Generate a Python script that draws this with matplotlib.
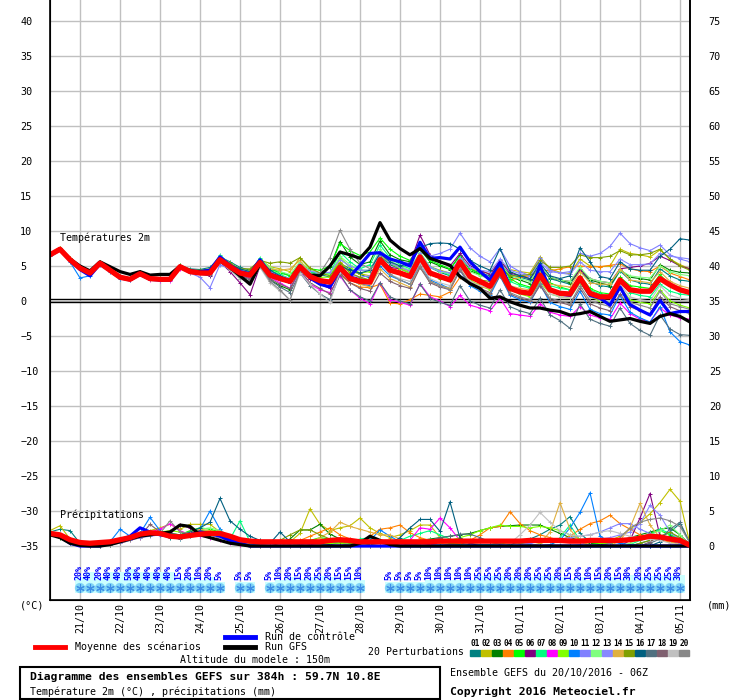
import matplotlib
matplotlib.use('Agg')
import matplotlib.pyplot as plt
from matplotlib.lines import Line2D
from matplotlib.patches import Rectangle

plt.rcParams['font.family'] = ['DejaVu Sans Mono', 'DejaVu Sans']

# echeances toutes les 6h, du 20/10 06Z au 05/11 06Z (384h)
steps = list(range(65))
day_steps = [3, 7, 11, 15, 19, 23, 27, 31, 35, 39, 43, 47, 51, 55, 59, 63]
day_labels = ['21/10', '22/10', '23/10', '24/10', '25/10', '26/10', '27/10', '28/10',
              '29/10', '30/10', '31/10', '01/11', '02/11', '03/11', '04/11', '05/11']

# Temperature 2m (degC)
t_mean = [6.6, 7.4, 5.9, 4.7, 4.0, 5.4, 4.4, 3.4, 3.1, 3.9, 3.2, 3.1, 3.1, 4.9, 4.2, 4.0,
          4.0, 5.9, 4.9, 4.0, 3.7, 5.5, 3.7, 3.2, 2.8, 4.9, 3.5, 2.9, 2.7, 4.8, 3.2, 2.8,
          2.7, 5.9, 4.4, 4.0, 3.5, 6.3, 4.0, 3.5, 3.0, 5.6, 3.5, 2.8, 2.1, 4.4, 1.8, 1.3,
          1.1, 3.7, 1.6, 1.1, 1.0, 3.3, 1.1, 0.6, 0.6, 3.0, 1.6, 1.4, 1.4, 3.2, 2.3, 1.6,
          1.2]
t_gfs = [6.6, 7.5, 6.0, 5.0, 4.3, 5.6, 4.9, 4.2, 3.8, 4.2, 3.7, 3.8, 3.8, 5.0, 4.3, 4.1,
         4.0, 5.8, 4.8, 3.6, 2.4, 5.3, 3.8, 3.3, 2.9, 4.9, 3.7, 3.6, 5.0, 7.0, 6.6, 6.1,
         7.7, 11.2, 8.7, 7.5, 6.6, 7.5, 6.1, 5.6, 5.1, 3.5, 2.5, 1.8, 0.4, 0.6, -0.1, -0.6,
         -1.0, -1.0, -1.3, -1.5, -2.0, -1.8, -1.5, -2.2, -2.9, -2.7, -2.5, -2.9, -3.2, -2.2, -1.8, -2.2,
         -3.0]
t_ctrl = [6.5, 7.3, 5.8, 4.5, 3.6, 5.3, 4.3, 3.3, 3.0, 3.8, 3.1, 3.0, 3.0, 4.8, 4.3, 4.2,
          4.4, 6.3, 5.1, 4.2, 3.9, 5.9, 3.9, 3.3, 2.7, 5.1, 3.3, 2.4, 2.0, 4.6, 3.5, 5.1,
          6.8, 6.9, 6.0, 5.6, 5.0, 8.4, 6.1, 6.2, 6.0, 7.7, 5.6, 4.2, 3.0, 5.5, 2.0, 1.3,
          1.0, 5.1, 1.6, 1.0, 0.8, 3.1, 0.8, 0.4, -0.6, 2.0, -0.5, -1.3, -2.0, 0.1, -1.8, -1.5,
          -1.5]

t01 = [6.5, 7.5, 6.0, 4.6, 3.9, 5.5, 4.5, 3.5, 3.2, 4.0, 3.1, 3.2, 3.3, 5.0, 4.6, 4.5, 4.8,
       6.3, 5.6, 4.8, 4.4, 6.0, 4.6, 4.2, 3.6, 5.3, 4.2, 3.8, 3.4, 5.4, 4.6, 3.8, 3.3,
       6.4, 5.2, 4.6, 4.0, 6.8, 4.8, 4.1, 3.6, 6.2, 4.6, 4.0, 3.6, 5.3, 3.8, 3.4, 3.0,
       5.0, 3.2, 2.8, 2.4, 4.4, 2.8, 2.2, 2.0, 4.3, 3.0, 2.6, 2.4, 4.6, 3.6, 3.0, 2.8]
t02 = [6.6, 7.6, 6.1, 4.8, 4.1, 5.6, 4.5, 3.5, 3.1, 4.0, 3.3, 3.2, 3.2, 5.0, 4.3, 4.1, 4.2,
       6.0, 5.2, 4.5, 4.3, 6.0, 4.9, 4.6, 4.2, 6.2, 4.6, 4.0, 3.8, 5.6, 4.2, 3.9, 3.6,
       6.6, 5.4, 4.8, 4.2, 6.5, 4.9, 4.4, 4.0, 6.0, 4.7, 4.2, 3.9, 5.6, 4.5, 4.2, 4.0,
       6.3, 4.6, 4.1, 3.9, 6.0, 5.0, 4.9, 5.0, 7.4, 6.8, 6.6, 6.3, 7.3, 6.0, 5.2, 4.6]
t03 = [6.6, 7.4, 5.8, 4.6, 3.9, 5.3, 4.3, 3.3, 3.0, 3.8, 3.1, 3.0, 3.0, 4.8, 4.1, 3.9, 3.9,
       5.8, 4.7, 3.2, 2.8, 5.2, 3.0, 2.2, 1.6, 4.6, 3.8, 4.0, 4.8, 8.5, 6.3, 5.2, 5.6,
       8.6, 6.6, 5.9, 5.6, 7.4, 5.6, 5.0, 4.5, 6.6, 4.3, 3.8, 3.2, 5.1, 3.4, 3.0, 2.5,
       4.7, 3.3, 3.0, 2.6, 4.6, 3.0, 2.6, 2.2, 4.5, 3.4, 3.2, 3.0, 5.2, 4.4, 4.1, 4.0]
t04 = [6.7, 7.5, 6.0, 4.8, 4.1, 5.5, 4.5, 3.5, 3.2, 3.9, 3.3, 3.1, 3.2, 4.9, 4.4, 4.3, 4.5,
       6.0, 4.8, 3.7, 3.3, 5.0, 3.5, 3.0, 2.6, 4.3, 3.2, 2.5, 2.0, 3.8, 2.6, 2.0, 1.9,
       2.4, -0.3, -0.4, 0.2, 1.0, 0.8, 0.6, 1.3, 3.4, 2.6, 2.4, 2.2, 3.6, 3.0, 3.4, 3.6,
       4.5, 4.3, 4.6, 4.9, 5.0, 4.9, 4.9, 5.1, 5.3, 4.6, 4.3, 4.2, 5.0, 4.0, 3.5, 3.0]
t05 = [6.6, 7.5, 6.0, 4.7, 4.0, 5.5, 4.4, 3.4, 3.2, 4.0, 3.2, 3.1, 3.1, 5.0, 4.3, 4.1, 4.1,
       6.3, 5.3, 4.3, 4.0, 5.9, 4.6, 4.0, 3.6, 5.2, 4.6, 4.4, 5.0, 8.2, 7.2, 6.5, 7.0,
       9.0, 7.4, 6.4, 5.8, 7.8, 5.8, 5.2, 4.6, 6.4, 4.6, 3.8, 3.2, 5.6, 3.2, 2.4, 2.0,
       4.2, 2.6, 2.0, 1.6, 3.6, 1.8, 1.2, 1.0, 3.4, 2.2, 2.0, 1.8, 3.8, 2.2, 1.6, 1.2]
t06 = [6.6, 7.4, 5.9, 4.7, 4.0, 5.4, 4.4, 3.3, 3.0, 3.8, 3.1, 3.0, 3.0, 4.8, 4.1, 3.8, 3.6,
       5.6, 4.2, 2.6, 0.9, 5.0, 3.6, 3.0, 2.6, 4.7, 3.1, 2.4, 1.8, 4.6, 3.6, 3.2, 3.0,
       6.0, 4.8, 4.6, 5.4, 9.4, 6.6, 5.6, 5.0, 6.8, 5.0, 4.4, 3.8, 5.8, 4.0, 3.6, 3.2,
       4.8, 3.4, 3.0, 2.8, 4.4, 3.2, 2.8, 2.6, 4.6, 4.8, 5.0, 5.4, 6.4, 5.8, 5.0, 4.6]
t07 = [6.6, 7.4, 6.0, 4.8, 4.1, 5.5, 4.5, 3.5, 3.2, 4.0, 3.3, 3.2, 3.2, 5.1, 4.4, 4.2, 4.3,
       6.6, 5.2, 4.4, 3.9, 6.2, 4.4, 3.8, 3.2, 5.3, 4.2, 3.8, 3.9, 7.0, 5.6, 4.6, 5.2,
       8.0, 6.2, 5.2, 4.6, 6.9, 4.9, 4.3, 3.7, 6.0, 3.6, 2.8, 2.2, 4.8, 2.8, 2.2, 1.8,
       4.0, 2.2, 1.8, 1.6, 3.4, 1.6, 1.0, 0.6, 2.6, 1.2, 0.8, 0.6, 2.4, 1.4, 1.0, 0.8]
t08 = [6.5, 7.3, 5.8, 4.6, 3.9, 5.3, 4.3, 3.3, 3.0, 3.8, 3.0, 2.9, 2.9, 4.6, 4.0, 3.8, 3.8,
       5.6, 4.6, 3.6, 3.3, 5.0, 3.4, 2.6, 1.8, 4.2, 2.4, 1.6, 1.2, 3.6, 1.6, 0.4, -0.4,
       2.6, 0.2, -0.2, -0.6, 2.5, 0.6, 0.0, -0.8, 0.8, -0.6, -1.0, -1.4, 0.4, -1.8, -2.0, -2.2,
       -0.4, -1.6, -2.0, -2.2, -0.8, -2.0, -2.4, -2.6, -0.3, -1.8, -2.6, -3.0, -1.0, -2.0, -2.4, -2.6]
t09 = [6.6, 7.4, 5.9, 4.7, 4.0, 5.4, 4.4, 3.4, 3.1, 3.9, 3.2, 3.1, 3.1, 4.9, 4.2, 4.0, 4.1,
       6.0, 5.0, 4.1, 3.8, 5.8, 4.0, 3.4, 3.0, 5.0, 3.8, 3.4, 3.4, 6.2, 4.8, 4.0, 4.2,
       7.0, 5.4, 4.6, 4.0, 6.6, 4.2, 3.6, 3.0, 5.4, 3.0, 2.2, 1.6, 3.8, 1.6, 1.0, 0.6,
       2.8, 1.0, 0.6, 0.4, 2.6, 0.6, 0.0, -0.2, 2.0, 0.2, -0.2, -0.4, 1.6, 0.0, -0.6, -1.0]
t10 = [6.5, 7.3, 5.6, 3.3, 3.6, 5.2, 4.2, 3.2, 3.0, 3.8, 3.1, 3.0, 3.0, 4.8, 4.2, 4.0, 4.1,
       6.2, 5.0, 4.0, 3.6, 5.6, 3.8, 3.2, 2.8, 4.8, 3.4, 2.8, 2.4, 4.4, 3.0, 2.4, 2.2,
       5.0, 3.6, 3.0, 2.4, 5.4, 3.0, 2.4, 1.8, 4.4, 2.2, 1.4, 0.8, 3.6, 0.8, 0.2, -0.2,
       2.4, -0.2, -0.8, -1.2, 1.4, -1.2, -1.8, -2.0, 0.8, -1.6, -2.4, -3.0, -0.8, -4.4, -5.8, -6.3]
t11 = [6.6, 7.4, 5.9, 4.7, 4.0, 5.4, 4.4, 3.4, 3.1, 4.2, 3.2, 3.1, 3.1, 4.9, 4.0, 3.4, 1.9,
       5.2, 4.6, 3.9, 3.6, 5.4, 3.6, 3.0, 2.6, 4.6, 3.4, 2.8, 2.6, 4.6, 3.8, 3.4, 3.6,
       6.6, 6.0, 5.6, 5.4, 7.6, 6.4, 6.8, 7.4, 9.7, 7.6, 6.4, 5.6, 7.5, 5.0, 4.2, 3.6,
       6.2, 4.4, 4.0, 4.2, 6.8, 6.4, 6.8, 7.8, 9.7, 8.2, 7.6, 7.2, 8.0, 6.6, 6.0, 5.6]
t12 = [6.6, 7.5, 6.0, 4.8, 4.1, 5.5, 4.5, 3.5, 3.2, 4.0, 3.3, 3.2, 3.2, 5.0, 4.3, 4.1, 4.2,
       6.4, 5.4, 4.6, 4.1, 6.0, 4.8, 4.2, 3.8, 5.6, 4.5, 4.0, 3.8, 6.4, 5.2, 4.4, 4.4,
       7.4, 5.8, 5.0, 4.4, 7.0, 4.8, 4.2, 3.9, 6.2, 4.2, 3.6, 3.2, 5.4, 3.6, 3.2, 2.8,
       5.0, 3.4, 3.0, 2.8, 4.8, 3.2, 2.8, 2.6, 4.4, 3.6, 3.4, 3.3, 5.0, 4.2, 3.8, 3.6]
t13 = [6.6, 7.4, 5.9, 4.6, 3.9, 5.4, 4.4, 3.4, 3.1, 3.9, 3.2, 3.2, 3.4, 5.0, 4.3, 4.2, 4.3,
       6.4, 5.3, 4.4, 4.0, 5.8, 4.2, 3.6, 3.2, 5.2, 4.3, 4.0, 4.1, 5.9, 5.0, 4.4, 4.4,
       6.9, 5.4, 4.8, 4.3, 6.8, 4.8, 4.3, 4.0, 6.2, 4.8, 4.4, 4.2, 6.0, 4.4, 3.9, 3.6,
       5.6, 4.2, 4.0, 3.8, 5.6, 4.4, 4.2, 4.2, 6.0, 5.2, 5.2, 5.3, 6.8, 6.4, 6.2, 6.0]
t14 = [6.6, 7.4, 5.9, 4.7, 4.0, 5.4, 4.4, 3.4, 3.1, 3.9, 3.2, 3.1, 3.1, 4.9, 4.3, 4.2, 4.4,
       6.2, 5.0, 4.2, 3.8, 5.6, 4.6, 4.4, 4.6, 5.8, 3.9, 3.2, 2.9, 4.4, 3.0, 2.4, 2.0,
       4.6, 3.2, 2.6, 2.0, 4.8, 2.8, 2.2, 1.8, 4.6, 2.6, 2.0, 1.8, 4.0, 2.2, 1.8, 1.6,
       4.0, 2.4, 2.2, 2.0, 4.2, 2.6, 2.4, 2.4, 4.6, 3.0, 2.8, 2.6, 4.2, 2.8, 2.2, 1.8]
t15 = [6.7, 7.6, 6.1, 4.9, 4.2, 5.6, 4.6, 3.6, 3.3, 4.1, 3.4, 3.3, 3.3, 5.1, 4.5, 4.4, 4.6,
       6.3, 5.4, 4.6, 4.6, 5.8, 5.4, 5.6, 5.4, 6.2, 4.7, 4.0, 3.6, 5.4, 4.0, 3.4, 3.0,
       6.0, 4.4, 3.8, 3.4, 6.0, 3.8, 3.2, 2.8, 5.0, 3.4, 3.0, 2.8, 4.8, 3.6, 3.6, 3.8,
       5.8, 4.8, 4.8, 5.0, 6.6, 6.2, 6.2, 6.4, 7.2, 6.6, 6.6, 6.8, 7.4, 6.0, 5.0, 4.4]
t16 = [6.6, 7.4, 5.9, 4.7, 4.0, 5.4, 4.4, 3.4, 3.1, 3.9, 3.3, 3.2, 3.2, 5.0, 4.4, 4.3, 4.5,
       6.1, 5.2, 4.6, 4.2, 5.8, 4.4, 3.6, 3.0, 5.0, 3.6, 3.0, 2.8, 5.0, 4.4, 4.0, 4.4,
       6.8, 5.6, 5.0, 5.4, 7.6, 8.2, 8.3, 8.2, 7.4, 5.8, 5.0, 4.4, 7.5, 4.2, 3.6, 3.2,
       5.4, 3.6, 3.2, 3.6, 7.6, 5.6, 3.5, 3.2, 5.6, 4.6, 4.4, 4.4, 6.4, 7.4, 8.9, 8.7]
t17 = [6.6, 7.4, 5.9, 4.7, 4.0, 5.4, 4.4, 3.4, 3.1, 3.9, 3.2, 3.1, 3.1, 4.9, 4.2, 3.9, 3.7,
       5.6, 4.6, 3.6, 3.0, 5.2, 3.0, 2.0, 1.2, 4.0, 2.2, 1.0, 0.2, 3.8, 1.6, 0.6, 0.0,
       2.6, 0.6, 0.0, -0.4, 2.4, 0.4, -0.2, -0.6, 2.2, 0.0, -0.6, -1.0, 1.6, -0.8, -1.4, -1.8,
       0.4, -2.0, -2.8, -3.9, -0.4, -2.6, -3.2, -3.6, -1.0, -3.2, -4.2, -4.9, -2.0, -4.0, -4.8, -4.9]
t18 = [6.6, 7.4, 5.9, 4.7, 4.0, 5.4, 4.4, 3.4, 3.1, 3.9, 3.2, 3.1, 3.1, 4.9, 4.2, 4.0, 4.0,
       5.9, 4.6, 3.6, 3.2, 5.0, 3.2, 2.4, 1.8, 4.4, 2.6, 1.8, 1.0, 4.0, 2.6, 1.8, 1.4,
       4.0, 2.8, 2.2, 1.8, 4.8, 2.6, 2.0, 1.6, 4.4, 2.4, 1.8, 1.2, 3.6, 1.0, 0.4, 0.0,
       2.2, 0.2, -0.2, -0.6, 1.8, -0.4, -1.0, -1.4, 1.0, -0.8, -1.4, -1.8, 0.6, -0.8, -1.4, -1.8]
t19 = [6.5, 7.3, 5.8, 4.6, 3.9, 5.3, 4.3, 3.3, 3.0, 3.8, 3.1, 3.0, 3.0, 4.8, 4.0, 3.8, 3.8,
       5.7, 4.4, 3.2, 2.6, 4.8, 2.6, 1.4, 0.2, 4.0, 2.4, 1.0, -0.2, 4.2, 3.2, 2.8, 2.6,
       5.4, 3.8, 3.2, 2.8, 5.4, 3.2, 2.6, 2.2, 5.0, 2.8, 2.2, 1.8, 4.4, 1.8, 1.2, 0.8,
       3.2, 1.0, 0.6, 0.4, 2.8, 0.6, 0.2, 0.0, 2.4, 0.6, 0.2, 0.0, 2.2, 0.8, 0.4, 0.2]
t20 = [6.6, 7.4, 5.9, 4.7, 4.0, 5.4, 4.4, 3.4, 3.1, 3.9, 3.2, 3.1, 3.1, 4.9, 4.2, 4.0, 4.0,
       5.8, 4.6, 3.4, 2.8, 5.0, 2.8, 1.6, 0.1, 4.4, 3.6, 4.0, 6.2, 10.1, 7.4, 5.4, 4.6,
       5.8, 3.8, 3.0, 2.4, 5.0, 2.8, 2.2, 1.6, 4.6, 2.4, 1.6, 1.0, 4.0, 1.2, 0.6, 0.2,
       2.6, 0.4, 0.0, -0.4, 2.2, 0.0, -0.4, -0.8, 1.8, -0.2, -0.6, -1.0, 1.4, -0.4, -0.8, -1.2]

# Precipitations (mm / 6h)
p_mean = [1.8, 1.6, 0.9, 0.5, 0.4, 0.5, 0.6, 0.9, 1.2, 1.7, 1.9, 1.8, 1.4, 1.3, 1.5, 1.7,
          1.8, 1.8, 1.4, 0.9, 0.7, 0.6, 0.6, 0.6, 0.6, 0.6, 0.6, 0.6, 0.8, 0.9, 0.8, 0.6,
          0.6, 0.6, 0.6, 0.6, 0.6, 0.6, 0.6, 0.7, 0.7, 0.7, 0.7, 0.7, 0.7, 0.7, 0.7, 0.7,
          0.8, 0.8, 0.8, 0.8, 0.7, 0.7, 0.8, 0.8, 0.8, 0.8, 0.9, 1.1, 1.4, 1.3, 1.0, 0.8,
          0.1]
p_gfs = [1.6, 1.2, 0.4, 0.1, 0, 0, 0.2, 0.6, 1.0, 1.4, 1.6, 1.8, 2.0, 3.0, 2.8, 1.6,
         1.2, 0.8, 0.4, 0.2, 0, 0, 0, 0, 0, 0, 0, 0, 0, 0, 0, 0.4,
         1.4, 0.8, 0.2, 0, 0, 0, 0, 0, 0, 0, 0, 0, 0, 0, 0, 0,
         0, 0, 0, 0, 0, 0, 0, 0, 0, 0, 0, 0, 0, 0, 0, 0,
         0]
p_ctrl = [1.8, 1.4, 0.4, 0, 0, 0, 0.4, 0.8, 1.4, 2.6, 2.0, 1.6, 1.4, 1.2, 1.6, 2.0,
          1.8, 1.4, 0.8, 0.4, 0, 0, 0, 0, 0, 0, 0, 0, 0, 0, 0, 0,
          0, 0, 0, 0, 0, 0, 0, 0, 0, 0, 0, 0, 0, 0, 0, 0,
          0, 0, 0, 0, 0, 0, 0, 0, 0, 0, 0, 0, 0, 0, 0, 0,
          0]

r01 = [2.0, 2.4, 2.2, 0.4, 0, 0, 0.3, 0.8, 1.2, 1.5, 2.0, 1.6, 1.2, 1.0, 1.4, 1.8,
       1.6, 1.2, 0.8, 0.4, 0.2, 0, 0, 0, 0, 0.3, 0.6, 0.4, 0.2, 0.5, 0.8, 0.4,
       0.2, 0.4, 0.6, 0.3, 0, 0, 0, 0, 0.2, 0.4, 0.2, 0, 0, 0, 0.3, 0.5,
       1.0, 1.6, 2.4, 3.0, 4.2, 1.8, 0.6, 0.2, 0, 0, 0, 0.4, 0.8, 1.2, 2.0, 3.2, 0.4]
r02 = [2.2, 2.9, 1.0, 0.1, 0, 0, 0.2, 0.6, 1.0, 1.6, 2.2, 2.6, 3.1, 2.4, 3.1, 3.1,
       3.1, 2.0, 0.8, 0.2, 0, 0, 0, 0, 0.6, 1.8, 5.3, 3.1, 2.2, 2.6, 2.9, 4.0,
       2.6, 1.8, 1.2, 1.6, 2.2, 3.0, 3.0, 1.2, 0.4, 0.2, 0, 0, 0, 0, 0, 0,
       0, 0, 0, 0, 0, 0, 0.2, 0.4, 0.8, 1.4, 2.4, 3.4, 4.6, 6.2, 8.1, 6.4, 0.3]
r03 = [1.6, 1.2, 0.4, 0, 0, 0.2, 0.4, 0.8, 1.2, 1.8, 2.0, 1.8, 1.4, 1.2, 1.6, 2.0,
       2.2, 1.8, 1.0, 0.4, 0, 0, 0, 0.4, 1.0, 2.3, 2.3, 3.1, 1.7, 1.0, 0.6, 0.4,
       0.2, 0, 0, 0, 0.4, 0.8, 1.0, 1.2, 1.4, 1.6, 1.8, 2.2, 2.6, 2.8, 2.9, 3.0,
       3.0, 3.0, 2.4, 1.8, 1.2, 0.8, 0.4, 0.2, 0.4, 0.8, 1.2, 1.6, 2.0, 2.4, 2.6, 1.6, 0.2]
r04 = [1.8, 1.6, 0.6, 0, 0, 0, 0.2, 0.4, 0.8, 1.2, 1.6, 1.8, 1.6, 1.4, 1.8, 2.2,
       2.0, 1.6, 1.0, 0.4, 0.2, 0, 0, 0, 0.2, 0.8, 1.4, 2.0, 2.6, 1.6, 1.0, 0.6,
       1.4, 2.4, 2.6, 3.0, 1.9, 1.2, 0.8, 0.4, 0.2, 0.4, 0.8, 1.6, 2.6, 2.8, 4.9, 3.2,
       2.2, 1.6, 1.2, 0.8, 1.4, 2.4, 3.2, 3.6, 4.4, 3.2, 2.4, 1.6, 1.2, 0.8, 0.6, 0.4, 0]
r05 = [1.8, 1.5, 0.6, 0, 0, 0, 0.2, 0.6, 1.0, 1.4, 1.8, 2.0, 1.8, 1.6, 2.2, 2.6,
       2.4, 2.0, 1.2, 0.6, 0.2, 0, 0, 0, 0, 0.4, 0.8, 1.2, 1.0, 0.6, 0.4, 0.2,
       0, 0, 0, 0.2, 0.4, 0.6, 0.8, 0.6, 0.4, 0.2, 0, 0, 0.2, 0.4, 0.2, 0,
       0, 0, 0, 0, 0, 0, 0.2, 0.4, 0.6, 0.8, 1.0, 1.2, 1.8, 2.2, 1.6, 1.0, 0]
r06 = [1.6, 1.4, 0.4, 0, 0, 0, 0.4, 0.8, 1.2, 1.6, 1.8, 1.6, 2.0, 3.0, 2.6, 2.0,
       1.6, 1.2, 0.8, 0.4, 0, 0, 0, 0, 0, 0, 0.2, 0.4, 0.6, 0.4, 0.2, 0,
       0, 0, 0, 0, 0.2, 0.4, 0.2, 0, 0, 0, 0, 0, 0, 0, 0, 0,
       0, 0, 0, 0, 0, 0, 0, 0, 0, 0, 0.8, 4.0, 7.5, 1.4, 0.8, 0.4, 0]
r07 = [1.8, 1.5, 0.6, 0, 0, 0, 0.2, 0.6, 1.0, 1.6, 2.0, 1.8, 1.6, 1.4, 1.8, 2.2,
       2.0, 1.6, 1.0, 3.6, 0.6, 0.2, 0, 0, 0, 0.2, 0.6, 0.8, 0.6, 0.4, 0.6, 1.0,
       1.2, 0.8, 0.6, 0.8, 1.4, 1.8, 2.2, 1.6, 1.0, 0.6, 0.4, 0.2, 0.2, 0.4, 0.6, 0.4,
       0.2, 0, 0, 1.2, 3.0, 0.8, 0, 0, 0, 0, 0.2, 0.8, 1.6, 2.4, 1.8, 1.2, 0.2]
r08 = [1.8, 1.6, 0.6, 0, 0, 0, 0.4, 1.0, 1.4, 1.8, 2.0, 2.4, 3.2, 2.2, 1.6, 1.4,
       1.2, 0.8, 0.4, 0.2, 0, 0, 0, 0, 0, 0, 0, 0, 0, 0, 0, 0,
       0, 0, 0, 0, 0.8, 2.6, 2.4, 4.0, 2.6, 0.8, 0.4, 0, 0, 0, 0, 0,
       0, 0, 0, 0, 0, 0, 0, 0, 0, 0, 0, 0, 0, 0, 0, 0, 0]
r09 = [1.8, 1.5, 0.6, 0, 0, 0, 0.2, 0.6, 1.0, 1.4, 1.8, 2.0, 2.2, 2.0, 1.8, 2.0,
       2.2, 2.0, 1.4, 0.8, 0.2, 0, 0, 0, 0, 0, 0, 0.2, 0.4, 0.4, 0.2, 0,
       0, 0, 0.2, 0.4, 0.6, 0.8, 0.8, 0.6, 0.8, 1.2, 1.6, 2.2, 2.6, 3.0, 2.8, 2.8,
       2.6, 2.8, 2.6, 2.2, 1.6, 1.0, 0.6, 0.4, 0.4, 0.6, 0.8, 1.0, 1.2, 1.4, 1.0, 0.6, 0]
r10 = [1.6, 1.4, 0.4, 0, 0, 0, 0.6, 2.4, 1.4, 1.8, 4.1, 2.2, 1.4, 1.2, 1.6, 2.4,
       5.0, 2.4, 1.0, 0.4, 0, 0, 0, 0, 0, 0, 0, 0, 0, 0, 0, 0,
       0.8, 2.3, 1.4, 0.6, 0.2, 0, 0, 0, 0, 0, 0, 0, 0, 0, 0, 0,
       0, 0, 0.2, 0.8, 2.6, 4.8, 7.6, 1.4, 0.6, 0.4, 0.2, 0, 0, 0, 0, 0, 0]
r11 = [1.8, 1.5, 0.6, 0, 0, 0, 0.2, 0.4, 0.8, 1.2, 1.4, 1.6, 1.4, 1.2, 1.4, 1.6,
       1.6, 1.4, 1.0, 0.6, 0.2, 0, 0, 0, 0, 0, 0, 0, 0, 0, 0, 0,
       0, 0, 0, 0, 0, 0, 0, 0, 0, 0, 0, 0, 0, 0, 0, 0.2,
       0.4, 0.6, 0.8, 1.0, 1.2, 1.4, 1.6, 2.0, 2.6, 3.2, 3.2, 2.4, 1.8, 1.2, 0.8, 0.4, 0]
r12 = [1.8, 1.5, 0.6, 0, 0, 0, 0.2, 0.6, 1.0, 1.6, 2.0, 1.8, 1.6, 1.4, 2.0, 2.4,
       2.6, 2.2, 1.4, 0.6, 0.2, 0, 0, 0, 0, 0.2, 0.4, 0.6, 0.8, 0.6, 0.4, 0.2,
       0, 0, 0, 0, 0, 0, 0, 0, 0, 0, 0, 0, 0, 0, 0, 0,
       0, 0, 0, 0, 0, 0, 0, 0, 0, 0, 0.4, 1.0, 1.6, 2.2, 3.0, 1.6, 0]
r13 = [1.8, 1.5, 0.6, 0, 0, 0, 0.2, 0.6, 1.0, 1.4, 1.8, 1.6, 1.4, 1.2, 1.6, 2.0,
       1.8, 1.4, 1.0, 0.6, 0.2, 0, 0, 0, 0, 0, 0, 0, 0, 0, 0, 0,
       0, 0, 0, 0, 0, 0, 0, 0, 0, 0, 0, 0, 0, 0, 0, 0,
       0, 0, 0, 0, 0, 0.2, 0.6, 1.0, 1.2, 1.6, 2.0, 3.2, 5.8, 4.4, 2.0, 0.8, 0]
r14 = [1.8, 1.6, 0.6, 0, 0, 0, 0.2, 0.6, 1.0, 1.4, 1.8, 2.0, 1.8, 1.6, 2.0, 2.4,
       2.2, 1.6, 1.0, 0.4, 0, 0, 0, 0, 0, 0.2, 0.6, 1.2, 2.0, 3.4, 2.8, 2.4,
       2.0, 1.6, 1.6, 1.0, 0.4, 0.2, 0, 0, 0, 0, 0, 0, 0, 0, 0, 0,
       0, 0.4, 2.0, 6.2, 2.4, 0.6, 0.2, 0, 0, 0.8, 2.6, 6.1, 3.0, 1.2, 0.6, 0.2, 0]
r15 = [1.8, 1.5, 0.6, 0, 0, 0, 0.2, 0.6, 1.0, 1.4, 1.6, 1.8, 1.6, 1.4, 1.8, 2.2,
       2.0, 1.6, 1.2, 0.8, 0.4, 0.2, 0.4, 0.8, 1.6, 2.3, 2.3, 1.6, 1.0, 0.6, 0.4, 0.2,
       0, 0, 0, 0, 0, 0, 0, 0, 0, 0, 0, 0, 0, 0, 0, 0,
       0, 0, 0, 0, 0, 0, 0, 0, 0, 0, 0, 0.4, 0.8, 1.4, 2.0, 1.2, 0]
r16 = [1.8, 1.5, 0.6, 0, 0, 0, 0.2, 0.6, 1.0, 1.4, 1.8, 2.0, 1.8, 1.6, 2.0, 2.6,
       3.4, 6.8, 3.6, 2.4, 1.4, 0.8, 0.4, 2.0, 0.6, 0.2, 0, 0, 0, 0, 0, 0,
       0, 0, 0.4, 1.2, 2.6, 3.8, 3.8, 2.1, 6.3, 1.1, 0.4, 0, 0, 0, 0, 0,
       0, 0, 0, 0, 0, 0, 0, 0, 0, 0, 0, 0, 0, 0.6, 1.4, 0.8, 0]
r17 = [1.8, 1.5, 0.6, 0, 0, 0, 0.2, 0.6, 1.0, 1.4, 1.8, 1.6, 1.4, 1.2, 1.4, 1.8,
       1.6, 1.2, 0.8, 0.4, 0, 0, 0, 0, 0, 0, 0, 0, 0, 0, 0, 0,
       0, 0, 0, 0, 0, 0.4, 0.8, 1.2, 1.4, 1.7, 1.7, 1.2, 0.6, 0.2, 0, 0,
       0, 0, 0, 0, 0, 0, 0, 0, 0, 0, 0, 0, 0.4, 1.0, 2.4, 3.4, 0.4]
r18 = [1.8, 1.5, 0.6, 0, 0, 0, 0.2, 0.6, 1.0, 1.4, 3.1, 2.0, 1.6, 1.4, 1.6, 1.8,
       1.6, 1.2, 0.8, 0.4, 0, 0, 0, 0, 0, 0, 0, 0, 0, 0, 0, 0,
       0, 0, 0, 0, 0, 0, 0, 0, 0, 0, 0, 0, 0, 0, 0, 0,
       0, 0, 0, 0, 0, 0, 0, 0, 0, 0, 0, 0, 0.6, 1.4, 1.0, 0.6, 0]
r19 = [1.8, 1.5, 0.6, 0, 0, 0, 0.2, 0.6, 1.0, 1.4, 1.8, 1.6, 1.4, 1.2, 1.4, 1.8,
       1.6, 1.2, 0.8, 0.4, 0, 0, 0, 0, 0, 0, 0, 0, 0, 0, 0, 0,
       0, 0, 0, 0, 0, 0, 0, 0, 0, 0, 0, 0, 0, 0, 0.4, 1.6,
       3.0, 4.8, 3.4, 2.2, 1.6, 1.4, 1.6, 2.0, 2.2, 1.8, 1.4, 1.2, 1.0, 0.8, 0.4, 0.2, 0]
r20 = [1.8, 1.5, 0.6, 0, 0, 0, 0.2, 0.6, 1.0, 1.6, 2.0, 1.8, 3.6, 2.0, 1.8, 2.0,
       1.8, 1.4, 1.0, 0.6, 0.2, 0, 0, 0, 0, 0, 0, 0, 0, 0, 0, 0,
       0, 0, 0, 0, 0, 0, 0, 0, 0, 0, 0, 0, 0, 0, 0, 0,
       0, 0, 0, 0, 0, 0, 0, 0, 0.4, 1.2, 2.6, 3.4, 3.8, 4.0, 3.6, 2.8, 0.4]

# probabilite de neige (%) par echeance, 0 = pas de flocon
snow_pct = [0, 0, 0, 20, 40, 20, 40, 40, 50, 40, 40, 40, 40, 15, 20, 10, 20, 5,
            0, 5, 5, 0, 5, 10, 20, 15, 20, 25, 20, 15, 15, 10, 0, 0,
            5, 5, 5, 5, 10, 10, 10, 10, 10, 25, 25, 25, 20, 20, 20, 25, 25, 20,
            15, 20, 10, 15, 20, 15, 30, 20, 25, 25, 25, 30, 0]

pert_names = ['01', '02', '03', '04', '05', '06', '07', '08', '09', '10',
              '11', '12', '13', '14', '15', '16', '17', '18', '19', '20']
pert_colors = ['#008080', '#c0c000', '#008000', '#ff8000', '#00ff00', '#800080', '#00ff80',
               '#ff00ff', '#80ff00', '#0080ff', '#8080ff', '#80ff80', '#8888ff', '#e0b040',
               '#80a000', '#006080', '#507080', '#806070', '#c0c0c0', '#888888']

temp_pert = [t01, t02, t03, t04, t05, t06, t07, t08, t09, t10,
             t11, t12, t13, t14, t15, t16, t17, t18, t19, t20]
prec_pert = [r01, r02, r03, r04, r05, r06, r07, r08, r09, r10,
             r11, r12, r13, r14, r15, r16, r17, r18, r19, r20]

W, H = 740, 700
PREC_OFFSET = -35  # 0 mm sur la ligne -35 degC


def fx(x):
    return x / W


def fy(y):
    return 1 - y / H


fig = plt.figure(figsize=(7.4, 7.0), dpi=100)
ax = fig.add_axes([fx(50), fy(600), fx(690) - fx(50), fy(0) - fy(600)])
ax.set_xlim(0, 64)
ax.set_ylim(-42.71, 43.0)

# grille
for yv in range(-35, 41, 5):
    ax.axhline(yv, color='#c0c0c0', lw=1.0, zorder=0)
for d in day_steps:
    ax.axvline(d, color='#c0c0c0', lw=1.0, zorder=0)
ax.axhline(0.29, color='black', lw=1.0, zorder=1)
ax.axhline(-0.14, color='black', lw=1.0, zorder=1)

# temperatures
for vals, col in zip(temp_pert, pert_colors):
    ax.plot(steps, vals, color=col, lw=0.8, marker='+', ms=3, mew=0.7, zorder=2)
ax.plot(steps, t_ctrl, color='#0000ff', lw=2.3, zorder=3)
ax.plot(steps, t_gfs, color='black', lw=2.3, zorder=3)
ax.plot(steps, t_mean, color='#ff0000', lw=3.8, zorder=4)

# precipitations
for vals, col in zip(prec_pert, pert_colors):
    ax.plot(steps, [v + PREC_OFFSET for v in vals], color=col, lw=0.8,
            marker='+', ms=3, mew=0.7, zorder=2)
ax.plot(steps, [v + PREC_OFFSET for v in p_ctrl], color='#0000ff', lw=2.3, zorder=3)
ax.plot(steps, [v + PREC_OFFSET for v in p_gfs], color='black', lw=2.3, zorder=3)
ax.plot(steps, [v + PREC_OFFSET for v in p_mean], color='#ff0000', lw=3.8, zorder=4)

# neige : barres cyan, flocons et pourcentages
base = -41.71
for s, pct in zip(steps, snow_pct):
    if pct <= 0:
        continue
    ax.bar(s, (10 + 0.28 * pct) / 7, bottom=base, width=1.0,
           color='#ccffff', edgecolor='none', zorder=1)
    ax.text(s - 0.15, -39.9, '%d%%' % pct, rotation=90, ha='center', va='bottom',
            fontsize=6, fontweight='bold', color='#0000ff', zorder=6)
flake_x = [s for s, pct in zip(steps, snow_pct) if pct > 0]
flake_y = [-41.0] * len(flake_x)
ax.scatter(flake_x, flake_y, s=55, color='#80d4f6', edgecolors='none', zorder=5)
ax.scatter(flake_x, flake_y, s=30, marker=(6, 2, 0), color='#3f8fe6', linewidths=0.8, zorder=5)

ax.text(1, 9.0, 'Températures 2m', fontsize=7.2, ha='left', va='center')
ax.text(1, -30.6, 'Précipitations', fontsize=7.2, ha='left', va='center')

# axes
ax.set_yticks(list(range(-35, 41, 5)))
ax.set_xticks(day_steps)
ax.set_xticklabels(day_labels, rotation=90, fontsize=7.2)
ax.tick_params(axis='x', length=0, pad=2)
ax.tick_params(axis='y', length=0, pad=21.5, labelsize=7.3)
for lab in ax.get_yticklabels():
    lab.set_horizontalalignment('left')
ax.spines['top'].set_visible(False)
for sp in ['left', 'right', 'bottom']:
    ax.spines[sp].set_linewidth(1.2)

ax2 = ax.twinx()
ax2.set_ylim(-42.71 + 35, 43.0 + 35)
ax2.set_yticks(list(range(0, 76, 5)))
ax2.tick_params(axis='y', length=0, pad=13.5, labelsize=7.3)
ax2.spines['top'].set_visible(False)
ax2.spines['right'].set_linewidth(1.2)

fig.text(fx(20), fy(606), '(°C)', fontsize=7.3, ha='left', va='center')
fig.text(fx(707), fy(606), '(mm)', fontsize=7.3, ha='left', va='center')

# legende
fig.add_artist(Line2D([fx(35), fx(65)], [fy(647), fy(647)], color='#ff0000', lw=3.5))
fig.text(fx(75), fy(647), 'Moyenne des scénarios', fontsize=7.2, ha='left', va='center')
fig.add_artist(Line2D([fx(225), fx(255)], [fy(637), fy(637)], color='#0000ff', lw=3.5))
fig.text(fx(265), fy(637), 'Run de contrôle', fontsize=7.2, ha='left', va='center')
fig.add_artist(Line2D([fx(225), fx(255)], [fy(647), fy(647)], color='black', lw=3.5))
fig.text(fx(265), fy(647), 'Run GFS', fontsize=7.2, ha='left', va='center')
fig.text(fx(180), fy(660), 'Altitude du modele : 150m', fontsize=7.1, ha='left', va='center')

fig.text(fx(368), fy(652), '20 Perturbations', fontsize=7.1, ha='left', va='center')
for i, (name, col) in enumerate(zip(pert_names, pert_colors)):
    x0 = 470 + 11 * i
    fig.add_artist(Rectangle((fx(x0), fy(656)), fx(10), fy(650) - fy(656),
                             color=col, transform=fig.transFigure))
    fig.text(fx(x0 + 5), fy(644), name, fontsize=5.6, fontweight='bold',
             ha='center', va='center')

fig.add_artist(Rectangle((fx(20), fy(699)), fx(420), fy(667) - fy(699),
                         fill=False, edgecolor='black', lw=1.5, transform=fig.transFigure))
fig.text(fx(30), fy(677), 'Diagramme des ensembles GEFS sur 384h : 59.7N 10.8E',
         fontsize=8.2, fontweight='bold', ha='left', va='center')
fig.text(fx(30), fy(692), 'Température 2m (°C) , précipitations (mm)',
         fontsize=7.2, ha='left', va='center')
fig.text(fx(450), fy(673), 'Ensemble GEFS du 20/10/2016 - 06Z',
         fontsize=7.2, ha='left', va='center')
fig.text(fx(450), fy(692), 'Copyright 2016 Meteociel.fr',
         fontsize=8.2, fontweight='bold', ha='left', va='center')

fig.savefig('out.png', dpi=100)
